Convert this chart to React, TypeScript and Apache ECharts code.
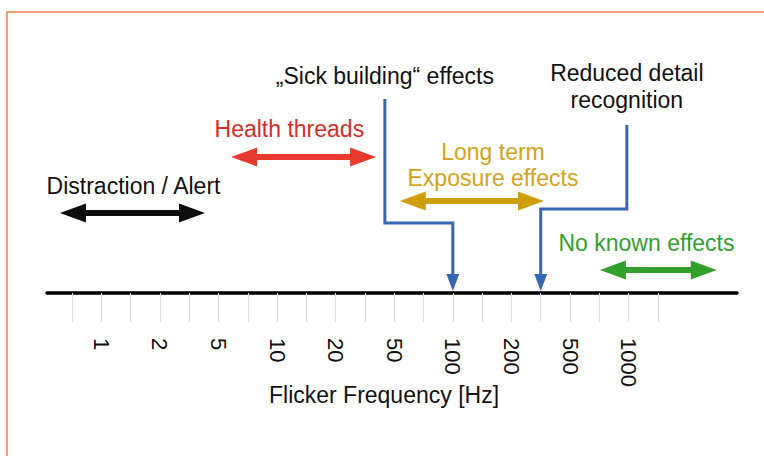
import React, { useEffect, useRef } from "react";
import * as echarts from "echarts";

// Ordinal frequency scale: one tick per position, labels on every other tick
const tickPositions = [0, 1, 2, 3, 4, 5, 6, 7, 8, 9, 10, 11, 12, 13, 14, 15, 16, 17, 18, 19, 20];
const labelPositions = [1, 3, 5, 7, 9, 11, 13, 15, 17, 19];
const tickLabels = ["1", "2", "5", "10", "20", "50", "100", "200", "500", "1000"];

// Double-headed range arrows
const rangeNames = ["Distraction / Alert", "Health threads", "Long term\nExposure effects", "No known effects"];
const rangeStart = [-0.41, 5.43, 11.19, 18.02];
const rangeEnd = [4.54, 10.38, 16.11, 22.01];
const rangeLevel = [3.2, 5.44, 3.68, 0.92];
const rangeLabelX = [2.1, 7.42, 14.37, 19.61];
const rangeLabelLevel = [4.28, 6.56, 5.12, 2.0];
const rangeArrowColors = ["#0d0d0d", "#e8392f", "#cf9e0d", "#33a02c"];
const rangeTextColors = ["#111111", "#d62d2a", "#d4a31a", "#30a030"];

// Bent connector arrows pointing at the axis
const connectorNames = ["\u201eSick building\u201c effects", "Reduced detail\nrecognition"];
const connectorTopX = [10.68, 18.94];
const connectorTopLevel = [7.76, 6.72];
const connectorBendLevel = [2.8, 3.36];
const connectorTargetX = [13, 16];
const connectorLabelLevel = [8.68, 8.26];

const FONT = '"Liberation Sans", Arial, sans-serif';
const BLUE = "#3767b0";
const FS = 23;

export default function App() {
  const ref = useRef<HTMLDivElement>(null);
  useEffect(() => {
    if (!ref.current) return;
    const chart = echarts.init(ref.current, null, { renderer: "svg" });
    const rangeData = rangeNames.map((_, i) => [rangeStart[i], rangeEnd[i], rangeLevel[i], rangeLabelX[i], rangeLabelLevel[i]]);
    const connData = connectorNames.map((_, i) => [connectorTopX[i], connectorTopLevel[i], connectorBendLevel[i], connectorTargetX[i], connectorLabelLevel[i]]);
    chart.setOption({
      animation: false,
      backgroundColor: "#ffffff",
      grid: { left: 47, right: 27, top: 43, bottom: 163 },
      xAxis: {
        type: "value",
        min: -0.853,
        max: 22.7,
        name: "Flicker Frequency [Hz]",
        nameLocation: "middle",
        nameGap: 90,
        nameMoveOverlap: false,
        nameTextStyle: { fontFamily: FONT, fontSize: FS, color: "#111", padding: [0, 16, 0, 0] },
        axisLine: { show: true, lineStyle: { color: "#000", width: 3.5 } },
        axisTick: { show: true, customValues: tickPositions, length: 29, lineStyle: { color: "#dcdcdc", width: 1 } },
        axisLabel: {
          customValues: labelPositions,
          rotate: -90,
          margin: 45,
          fontFamily: FONT,
          fontSize: 22,
          color: "#111",
          formatter: (v: number) => {
            const k = labelPositions.indexOf(Math.round(v));
            return k >= 0 ? tickLabels[k] : "";
          },
        },
        splitLine: { show: false },
      },
      yAxis: { type: "value", min: 0, max: 10, show: false },
      graphic: [
        {
          type: "rect",
          x: 7,
          y: 12,
          shape: { width: 800, height: 500 },
          style: { fill: "none", stroke: "#ef7d44", lineWidth: 1.5 },
          silent: true,
        },
      ],
      series: [
        {
          type: "custom",
          name: "ranges",
          data: rangeData,
          renderItem: (params: any, api: any) => {
            const i = params.dataIndex;
            const s = api.coord([api.value(0), api.value(2)]);
            const e = api.coord([api.value(1), api.value(2)]);
            const l = api.coord([api.value(3), api.value(4)]);
            const y = s[1];
            const h = 3, hl = 26, hw = 9.5;
            const x0 = s[0], x1 = e[0];
            const points = [
              [x0, y], [x0 + hl, y - hw], [x0 + hl, y - h], [x1 - hl, y - h], [x1 - hl, y - hw],
              [x1, y], [x1 - hl, y + hw], [x1 - hl, y + h], [x0 + hl, y + h], [x0 + hl, y + hw],
            ];
            return {
              type: "group",
              children: [
                { type: "polygon", shape: { points }, style: { fill: rangeArrowColors[i] } },
                {
                  type: "text",
                  x: l[0],
                  y: l[1],
                  style: {
                    text: rangeNames[i],
                    fill: rangeTextColors[i],
                    fontFamily: FONT,
                    fontSize: FS,
                    lineHeight: 26,
                    align: "center",
                    verticalAlign: "middle",
                  },
                },
              ],
            };
          },
        },
        {
          type: "custom",
          name: "connectors",
          data: connData,
          renderItem: (params: any, api: any) => {
            const i = params.dataIndex;
            const top = api.coord([api.value(0), api.value(1)]);
            const bendA = api.coord([api.value(0), api.value(2)]);
            const bendB = api.coord([api.value(3), api.value(2)]);
            const base = api.coord([api.value(3), 0]);
            const tipY = base[1] - 2;
            const hl = 17, hw = 6.5;
            const lbl = api.coord([api.value(0), api.value(4)]);
            return {
              type: "group",
              children: [
                {
                  type: "polyline",
                  shape: { points: [top, bendA, bendB, [bendB[0], tipY - hl + 1]] },
                  style: { stroke: BLUE, lineWidth: 3, fill: "none", lineJoin: "miter" },
                },
                {
                  type: "polygon",
                  shape: { points: [[bendB[0], tipY], [bendB[0] - hw, tipY - hl], [bendB[0] + hw, tipY - hl]] },
                  style: { fill: BLUE },
                },
                {
                  type: "text",
                  x: lbl[0],
                  y: lbl[1],
                  style: {
                    text: connectorNames[i],
                    fill: "#111111",
                    fontFamily: FONT,
                    fontSize: FS,
                    lineHeight: 27,
                    align: "center",
                    verticalAlign: "middle",
                  },
                },
              ],
            };
          },
        },
      ],
    });
    return () => chart.dispose();
  }, []);
  return <div ref={ref} style={{ position: "fixed", left: 0, top: 0, width: 764, height: 456 }} />;
}
